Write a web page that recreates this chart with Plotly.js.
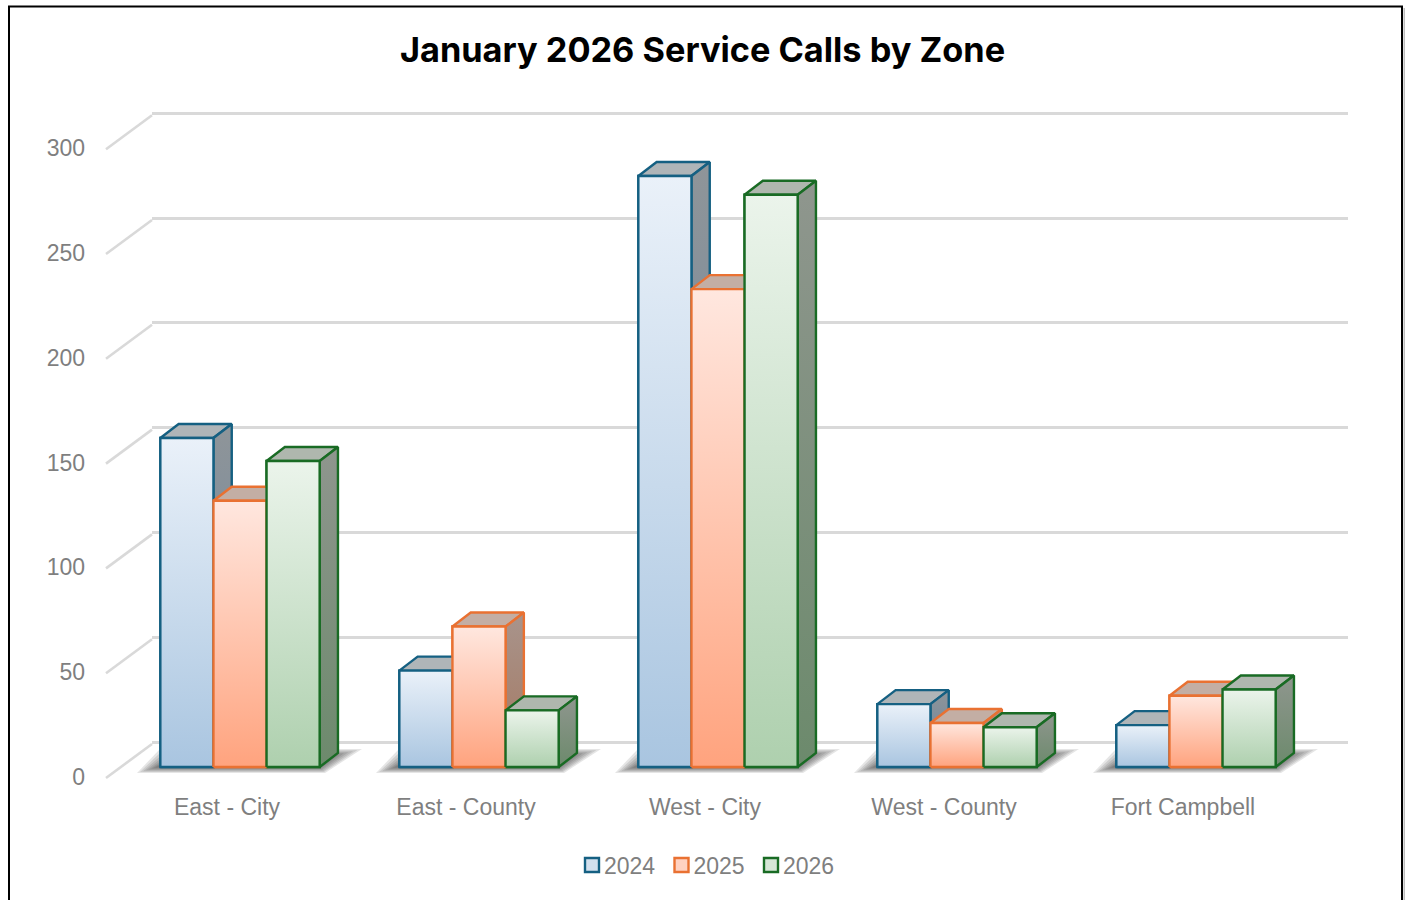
<!DOCTYPE html>
<html><head><meta charset="utf-8">
<script src="https://cdn.plot.ly/plotly-3.0.1.min.js"></script>
<style>html,body{margin:0;padding:0;background:#fff;overflow:hidden}#chart{width:1405px;height:900px}</style>
</head><body><div id="chart"></div>
<script>
// Data
const categories = ["East - City", "East - County", "West - City", "West - County", "Fort Campbell"];
const seriesNames = ["2024", "2025", "2026"];
const calls2024 = [157, 46, 282, 30, 20];
const calls2025 = [127, 67, 228, 21, 34];
const calls2026 = [146, 27, 273, 19, 37];
const axisTicks = [0, 50, 100, 150, 200, 250, 300];
const chartTitle = "January 2026 Service Calls by Zone";

// Styling
const edgeColors = ["#156082", "#E97132", "#196B24"];
const swatchColors = ["#D3E0EE", "#FFD2C2", "#D6E6D6"];
const frontTop = ["#EAF1F9", "#FFE7DF", "#EBF4EB"];
const frontBottom = ["#A9C5E0", "#FFA37E", "#AED0AE"];
const topFace = ["#AFB5B8", "#C3AEA4", "#AFB7AE"];
const sideTop = ["#8F9599", "#A8948C", "#8F968E"];
const sideBottom = ["#66829F", "#A5775F", "#6C8A6C"];

// Layout geometry
const W = 1405, H = 900, L = 152, R = 1348, T = 100, B = 790;
const pxPerUnit = 2.096, pxPerCat = 239, groupCenter0 = 240;
const depthX = 18.3 / pxPerCat, depthY = 14 / pxPerUnit;
const barW = 53.1 / pxPerCat;
const labelNudge = 1 / pxPerUnit;
const wallY = 34 / pxPerUnit;
const range = zero => [-(B - zero) / pxPerUnit, (zero - T) / pxPerUnit];
const gridRange = range(742), barRange = range(767), labelRange = range(777);
const xRange = [(L - groupCenter0) / pxPerCat, (R - groupCenter0) / pxPerCat];
const labelOffset = 13 / pxPerCat;
const series = [calls2024, calls2025, calls2026];
const px = v => (v - L) / (R - L), py = v => (B - v) / (B - T);

const traces = [];
const poly = (xs, ys, axis, color, gradient, width) => traces.push({
  type: "scatter", mode: "lines", x: xs.concat(xs[0]), y: ys.concat(ys[0]),
  xaxis: "x", yaxis: axis, fill: "toself", line: {color: color, width: width},
  fillgradient: gradient, showlegend: false, hoverinfo: "skip"
});

// Invisible carrier so the main (gridline) axes exist as a subplot
traces.push({type: "scatter", mode: "markers", x: axisTicks.map(() => xRange[0]), y: axisTicks,
  xaxis: "x", yaxis: "y", marker: {opacity: 0}, showlegend: false, hoverinfo: "skip"});

// Soft floor shadows: nested translucent shapes under each group
const shadowLayers = [0, 1, 2, 3, 4, 5, 6, 7, 8];
const shadowShapes = [];
categories.forEach((c, i) => {
  const shift = i * pxPerCat;
  shadowLayers.forEach(n => {
    const ix = 3 * n, iy = 0.9 * n;
    const corners = [[137 + ix, 773 - iy], [325 - ix * 0.3, 773 - iy], [362 - ix * 1.5, 749 + iy * 1.2], [160 + ix, 749 + iy * 1.2]];
    shadowShapes.push({
      type: "path", xref: "paper", yref: "paper", layer: "between",
      path: "M" + corners.map(p => px(p[0] + shift) + "," + py(p[1])).join("L") + "Z",
      fillcolor: "rgba(40,40,40,0.12)", line: {width: 0}
    });
  });
});

// Real bars: carry the legend and sit under the gradient faces
series.forEach((vals, k) => traces.push({
  type: "bar", name: seriesNames[k], x: categories.map((c, i) => i), y: vals,
  xaxis: "x", yaxis: "y2", marker: {color: swatchColors[k], line: {color: edgeColors[k], width: 2.4}},
  hoverinfo: "skip"
}));

// 3-D faces, painted back to front
categories.forEach((c, i) => {
  series.forEach((vals, k) => {
    const v = vals[i];
    const x0 = i + (k - 1.5) * barW, x1 = x0 + barW;
    poly([x0, x1, x1 + depthX, x0 + depthX], [v, v, v + depthY, v + depthY], "y2", edgeColors[k],
      {type: "vertical", colorscale: [[0, topFace[k]], [1, topFace[k]]]}, 2.4);
    poly([x1, x1 + depthX, x1 + depthX, x1], [0, depthY, v + depthY, v], "y2", edgeColors[k],
      {type: "vertical", colorscale: [[0, sideBottom[k]], [1, sideTop[k]]]}, 2.4);
    poly([x0, x1, x1, x0], [0, 0, v, v], "y2", edgeColors[k],
      {type: "vertical", colorscale: [[0, frontBottom[k]], [1, frontTop[k]]]}, 2.4);
  });
});

// Invisible carrier so the tick-label axis is drawn
traces.push({type: "scatter", mode: "markers", x: axisTicks.map(() => xRange[0]), y: axisTicks,
  xaxis: "x", yaxis: "y3", marker: {opacity: 0}, showlegend: false, hoverinfo: "skip"});

// Left-wall diagonals, from the front tick to the back gridline
const wallShapes = axisTicks.map(t => ({
  type: "line", xref: "paper", yref: "y3", layer: "below",
  x0: px(106), x1: px(152), y0: t - labelNudge, y1: t - labelNudge + wallY, line: {color: "#D9D9D9", width: 2.6}
}));

const layout = {
  width: W, height: H, paper_bgcolor: "#fff", plot_bgcolor: "rgba(0,0,0,0)",
  margin: {l: L, r: W - R, t: T, b: H - B, pad: 0},
  font: {family: "Liberation Sans, Arial, sans-serif", size: 23, color: "#7F7F7F"},
  title: {text: "<b>" + chartTitle + "</b>", x: 0.5, xanchor: "center", xref: "container",
    y: 1 - 50 / H, yanchor: "middle", yref: "container",
    font: {family: "Inter, sans-serif", size: 34.3, color: "#000"}},
  barmode: "group", bargap: 1 - 3 * barW, bargroupgap: 0,
  xaxis: {range: xRange, tickmode: "array", tickvals: categories.map((c, i) => i - labelOffset),
    ticktext: categories, showgrid: false, zeroline: false, showline: false, ticks: "",
    ticklabelstandoff: 1, tickfont: {size: 23, color: "#7F7F7F"}, fixedrange: true},
  yaxis: {range: gridRange, tickmode: "array", tickvals: axisTicks, showgrid: true,
    gridcolor: "#D9D9D9", gridwidth: 2.6, zeroline: false, showline: false, showticklabels: false, ticks: "", fixedrange: true},
  yaxis2: {range: barRange, overlaying: "y", visible: false, showgrid: false, zeroline: false, fixedrange: true},
  yaxis3: {range: labelRange, overlaying: "y", side: "left", tickmode: "array", tickvals: axisTicks,
    showgrid: false, zeroline: false, showline: false, ticks: "", ticklabelstandoff: 66,
    tickfont: {size: 23, color: "#7F7F7F"}, fixedrange: true},
  legend: {orientation: "h", x: px(572), xanchor: "left", y: py(865), yanchor: "middle",
    font: {size: 23, color: "#7F7F7F"}, bgcolor: "rgba(0,0,0,0)", entrywidth: 44.5, entrywidthmode: "pixels",
    itemclick: false, itemdoubleclick: false, traceorder: "normal"},
  shapes: shadowShapes.concat(wallShapes, [
    {type: "rect", xref: "paper", yref: "paper", x0: px(1403.5), x1: px(1405), y0: py(8), y1: py(905), fillcolor: "#BDBDBD", line: {width: 0}},
    {type: "rect", xref: "paper", yref: "paper", x0: px(9), x1: px(1402), y0: py(6.5), y1: py(905), fillcolor: "rgba(0,0,0,0)", line: {color: "#000", width: 2}}
  ]),
  showlegend: true
};

// Tighten the legend: larger swatches sitting closer to their labels
function tightenLegend(gd) {
  gd.querySelectorAll(".legend .traces").forEach(g => {
    const t = g.querySelector(".legendtext");
    if (t) t.setAttribute("x", 32);
    const p = g.querySelector(".legendpoints path");
    if (p) p.setAttribute("d", "M7,7H-7V-7H7Z");
  });
}
Plotly.newPlot("chart", traces, layout, {displayModeBar: false, responsive: false}).then(gd => {
  tightenLegend(gd);
  gd.on("plotly_afterplot", () => tightenLegend(gd));
});
</script></body></html>
